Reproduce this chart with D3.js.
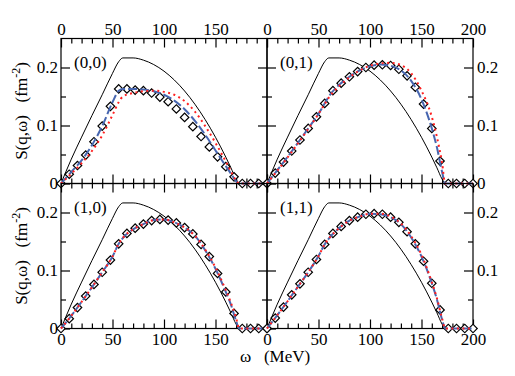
<!DOCTYPE html>
<html>
<head>
<meta charset="utf-8">
<script src="https://cdn.jsdelivr.net/npm/d3@7"></script>
<style>
  body { margin: 0; background: #fff; }
  text { font-family: "Liberation Serif", "Times New Roman", serif; fill: #000; white-space: pre; }
</style>
</head>
<body>
<div id="chart"></div>
<script>
// energy transfer grid of the curves (MeV)
const lineOmega = [0, 10, 20, 30, 40, 50, 56, 60, 70, 80, 90, 100, 110, 120, 130, 140, 150, 160, 165, 170, 173, 180, 190, 200];
// energy transfer of the diamonds (MeV)
const pointOmega = [0, 8, 16, 24, 32, 40, 48, 56, 64, 72, 80, 88, 96, 104, 112, 120, 128, 136, 144, 152, 160, 168, 176, 184, 192, 200];

// free response, same in every panel
const freeS = [0, 0.042, 0.08, 0.117, 0.153, 0.19, 0.21, 0.2165, 0.2165, 0.2127, 0.2051, 0.1937, 0.1785, 0.1595, 0.1367, 0.1101, 0.0797, 0.0455, 0.027, 0.0075, 0, 0, 0, 0];

// panel (0,0)
const blue00 = [0, 0.02, 0.04, 0.066, 0.099, 0.14, 0.16, 0.163, 0.163, 0.162, 0.159, 0.153, 0.143, 0.128, 0.108, 0.084, 0.057, 0.03, 0.017, 0.004, 0, 0, 0, 0];
const red00 = [0, 0.017, 0.035, 0.056, 0.083, 0.118, 0.14, 0.15, 0.156, 0.159, 0.16, 0.158, 0.153, 0.142, 0.124, 0.099, 0.07, 0.038, 0.021, 0.005, 0, 0, 0, 0];
const dots00 = [0, 0.016, 0.031, 0.049, 0.072, 0.099, 0.133, 0.163, 0.163, 0.161, 0.16, 0.156, 0.149, 0.141, 0.1285, 0.114, 0.098, 0.081, 0.063, 0.046, 0.029, 0.0115, 0, 0, 0, 0];

// panel (0,1)
const blue01 = [0, 0.023, 0.046, 0.07, 0.095, 0.12, 0.138, 0.15, 0.17, 0.184, 0.195, 0.202, 0.205, 0.203, 0.195, 0.177, 0.145, 0.095, 0.062, 0.02, 0, 0, 0, 0];
const red01 = [0, 0.022, 0.045, 0.069, 0.094, 0.12, 0.137, 0.148, 0.168, 0.183, 0.195, 0.203, 0.207, 0.208, 0.204, 0.19, 0.16, 0.115, 0.08, 0.035, 0, 0, 0, 0];
const dots01 = [0, 0.018, 0.037, 0.056, 0.075, 0.095, 0.115, 0.138, 0.16, 0.173, 0.184, 0.193, 0.2, 0.204, 0.2047, 0.2035, 0.197, 0.1857, 0.166, 0.137, 0.095, 0.0386, 0, 0, 0, 0];

// panel (1,0)
const blue10 = [0, 0.022, 0.046, 0.071, 0.097, 0.124, 0.146, 0.156, 0.171, 0.18, 0.187, 0.188, 0.183, 0.174, 0.16, 0.135, 0.103, 0.063, 0.041, 0.013, 0, 0, 0, 0];
const red10 = [0, 0.022, 0.046, 0.071, 0.097, 0.124, 0.146, 0.156, 0.171, 0.18, 0.187, 0.188, 0.183, 0.174, 0.16, 0.136, 0.105, 0.066, 0.044, 0.018, 0, 0, 0, 0];
const dots10 = [0, 0.017, 0.036, 0.056, 0.076, 0.097, 0.118, 0.146, 0.164, 0.173, 0.18, 0.186, 0.188, 0.187, 0.182, 0.174, 0.163, 0.145, 0.124, 0.095, 0.063, 0.026, 0, 0, 0, 0];

// panel (1,1)
const blue11 = [0, 0.023, 0.047, 0.072, 0.097, 0.125, 0.145, 0.155, 0.173, 0.186, 0.193, 0.198, 0.197, 0.192, 0.18, 0.157, 0.124, 0.078, 0.05, 0.015, 0, 0, 0, 0];
const red11 = [0, 0.023, 0.047, 0.072, 0.097, 0.125, 0.145, 0.155, 0.173, 0.186, 0.193, 0.198, 0.198, 0.193, 0.181, 0.159, 0.127, 0.08, 0.052, 0.017, 0, 0, 0, 0];
const dots11 = [0, 0.018, 0.037, 0.058, 0.077, 0.097, 0.119, 0.145, 0.164, 0.176, 0.186, 0.192, 0.197, 0.198, 0.197, 0.192, 0.183, 0.167, 0.146, 0.116, 0.078, 0.032, 0, 0, 0, 0];

const panelNames = ["(0,0)", "(0,1)", "(1,0)", "(1,1)"];
const blueSeries = [blue00, blue01, blue10, blue11];
const redSeries = [red00, red01, red10, red11];
const dotSeries = [dots00, dots01, dots10, dots11];

const xMajor = [0, 50, 100, 150, 200];
const xMinor = [10, 20, 30, 40, 60, 70, 80, 90, 110, 120, 130, 140, 160, 170, 180, 190];
const yMajor = [0, 0.1, 0.2];
const yMinor = [0.05, 0.15];

const width = 515, height = 376;
const marginLeft = 61, marginTop = 38.5, pw = 206, ph = 145;

const svg = d3.select("#chart").append("svg")
    .attr("width", width)
    .attr("height", height);

const fmtY = d => d === 0 ? "0" : d3.format(".1f")(d);

panelNames.forEach((name, i) => {
    const row = Math.floor(i / 2), col = i % 2;
    const x0 = marginLeft + col * pw, y0 = marginTop + row * ph;

    const x = d3.scaleLinear().domain([0, 200]).range([x0, x0 + pw]);
    const y = d3.scaleLinear().domain([0, 0.25]).range([y0 + ph, y0]);

    const g = svg.append("g");

    // frame
    g.append("rect")
        .attr("x", x0).attr("y", y0)
        .attr("width", pw).attr("height", ph)
        .attr("fill", "none").attr("stroke", "#000").attr("stroke-width", 1.2);

    function axis(gen, scale, ticks, size, pad, fmt, keep, tr) {
        const a = gen(scale).tickValues(ticks).tickSize(-size).tickPadding(pad)
            .tickFormat(d => keep(d) ? fmt(d) : "");
        const ag = g.append("g").attr("transform", tr).call(a);
        ag.select(".domain").remove();
        ag.selectAll(".tick line").attr("stroke", "#000").attr("stroke-width", 1.2);
        ag.selectAll(".tick text")
            .style("font-family", '"Liberation Serif", serif')
            .style("font-size", "17px").attr("fill", "#000");
        return ag;
    }
    const xfmt = d => String(d);
    const xKeep = d => col === 1 || d !== 200;
    const none = () => false;

    // bottom and top
    axis(d3.axisBottom, x, xMajor, 9, 4, xfmt, row === 1 ? xKeep : none, `translate(0,${y0 + ph})`);
    axis(d3.axisBottom, x, xMinor, 5, 4, xfmt, none, `translate(0,${y0 + ph})`);
    axis(d3.axisTop, x, xMajor, 9, 4, xfmt, row === 0 ? xKeep : none, `translate(0,${y0})`);
    axis(d3.axisTop, x, xMinor, 5, 4, xfmt, none, `translate(0,${y0})`);

    // left and right
    const yKeepR = d => !(row === 1 && d === 0);
    axis(d3.axisLeft, y, yMajor, 9, 3, fmtY, col === 0 ? () => true : none, `translate(${x0},0)`);
    axis(d3.axisLeft, y, yMinor, 5, 3, fmtY, none, `translate(${x0},0)`);
    axis(d3.axisRight, y, yMajor, 9, 4, fmtY, col === 1 ? yKeepR : none, `translate(${x0 + pw},0)`);
    axis(d3.axisRight, y, yMinor, 5, 4, fmtY, none, `translate(${x0 + pw},0)`);

    const line = vals => d3.line()
        .x((d, k) => x(lineOmega[k]))
        .y(d => y(d))
        .curve(d3.curveMonotoneX)(vals);

    // free response
    g.append("path").attr("d", line(freeS))
        .attr("fill", "none").attr("stroke", "#000").attr("stroke-width", 1);

    // diamonds
    g.selectAll("path.dia")
        .data(dotSeries[i])
        .enter().append("path")
        .attr("class", "dia")
        .attr("d", d3.symbol(d3.symbolSquare, 36))
        .attr("transform", (d, k) => `translate(${x(pointOmega[k])},${y(d)}) rotate(45)`)
        .attr("fill", "#fff").attr("stroke", "#000").attr("stroke-width", 1.2);

    // blue dashed
    g.append("path").attr("d", line(blueSeries[i]))
        .attr("fill", "none").attr("stroke", "#4766b0").attr("stroke-width", 2)
        .attr("stroke-dasharray", "9,3");

    // red dotted
    g.append("path").attr("d", line(redSeries[i]))
        .attr("fill", "none").attr("stroke", "#ff2020").attr("stroke-width", 2)
        .attr("stroke-dasharray", "2,3.5");

    // panel label
    g.append("text")
        .attr("x", x0 + 13).attr("y", y0 + 29)
        .style("font-size", "17px")
        .text(name);

    // y label
    if (col === 0) {
        const t = svg.append("text")
            .attr("transform", `translate(27,${y0 + ph / 2}) rotate(-90)`)
            .attr("text-anchor", "middle")
            .style("font-size", "17px");
        t.append("tspan").text("S(q,\u03c9)   (fm");
        t.append("tspan").attr("dy", -7).style("font-size", "12px").text("-2");
        t.append("tspan").attr("dy", 7).text(")");
    }
});

// x label
svg.append("text")
    .attr("x", 240).attr("y", 362)
    .style("font-size", "17px")
    .text("\u03c9   (MeV)");
</script>
</body>
</html>
